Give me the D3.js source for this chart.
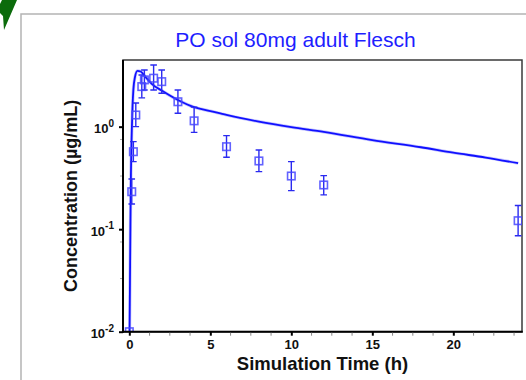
<!DOCTYPE html>
<html>
<head>
<meta charset="utf-8">
<script src="https://cdn.jsdelivr.net/npm/d3@7"></script>
<style>
  html, body { margin: 0; padding: 0; background: #fff; }
  svg { display: block; font-family: "Liberation Sans", Arial, sans-serif; }
</style>
</head>
<body>
<svg id="chart" width="526" height="380"></svg>
<script>
// Observed plasma concentrations (mean with error bars), µg/mL
const obsTime = [0, 0.15, 0.25, 0.4, 0.77, 0.93, 1.5, 2, 3, 4, 6, 8, 10, 12, 24];
const obsConc = [0.01, 0.232, 0.57, 1.30, 2.46, 2.86, 2.97, 2.75, 1.75, 1.14, 0.638, 0.463, 0.330, 0.270, 0.121];
const obsLow  = [null, 0.176, 0.456, 1.0, 1.91, 2.28, 2.28, 2.12, 1.35, 0.88, 0.503, 0.364, 0.238, 0.216, 0.0864];
const obsHigh = [null, 0.309, 0.714, 1.70, 3.19, 3.57, 4.0, 3.57, 2.28, 1.55, 0.817, 0.593, 0.456, 0.333, 0.170];

// Simulated concentration-time profile
const simTime = [0, 0.04, 0.07, 0.1, 0.13, 0.16, 0.2, 0.25, 0.35, 0.5, 0.7, 1.0, 1.4, 2, 3, 4, 5, 6, 8, 10, 12, 15, 18, 20, 22, 24];
const simConc = [0.005, 0.03, 0.12, 0.35, 0.65, 1.0, 1.6, 2.3, 3.05, 3.5, 3.45, 3.05, 2.6, 2.25, 1.82, 1.55, 1.42, 1.30, 1.12, 0.99, 0.89, 0.74, 0.63, 0.557, 0.5, 0.44];

// Axis ticks
const xTicks = [0, 5, 10, 15, 20];
const xMinorTicks = [1.25, 2.5, 3.75, 6.25, 7.5, 8.75, 11.25, 12.5, 13.75, 16.25, 17.5, 18.75, 21.25, 22.5, 23.75];
const yTicks = [0.01, 0.1, 1];
const yTickExponents = ["-2", "-1", "0"];
const yMinorTicks = [0.033, 0.075, 0.33, 0.75];

const titleText = "PO sol 80mg adult Flesch";
const xLabel = "Simulation Time (h)";
const yLabel = "Concentration (µg/mL)";

const svg = d3.select("#chart");
const plot = { left: 123, right: 522, top: 60, bottom: 331.7 };

const x = d3.scaleLinear().domain([-0.39, 24.24]).range([plot.left, plot.right]);
const y = d3.scaleLog().domain([0.01, 4.47]).range([plot.bottom, plot.top]);

// Panel frame and corner marker
svg.append("path")
  .attr("d", `M21,380 V14 H526`)
  .attr("fill", "none").attr("stroke", "#b4b4b4").attr("stroke-width", 1.5);
svg.append("polygon")
  .attr("points", "2,0 17,0 4,30 3,16 0,13 0,4")
  .attr("fill", "#0b6b0b");

// Title
svg.append("text")
  .attr("x", 295.5).attr("y", 47)
  .attr("text-anchor", "middle")
  .attr("font-size", 21)
  .attr("fill", "#1e1eff")
  .text(titleText);

// Clip for plotted data
svg.append("clipPath").attr("id", "plotClip")
  .append("rect")
  .attr("x", plot.left).attr("y", plot.top)
  .attr("width", plot.right - plot.left).attr("height", plot.bottom - plot.top);

// Plot box
svg.append("rect")
  .attr("x", plot.left).attr("y", plot.top)
  .attr("width", plot.right - plot.left).attr("height", plot.bottom - plot.top)
  .attr("fill", "none").attr("stroke", "#3a3a3a").attr("stroke-width", 1.5);

const data = svg.append("g").attr("clip-path", "url(#plotClip)");

// Simulated curve
const line = d3.line()
  .x((d, i) => x(simTime[i]))
  .y((d, i) => y(simConc[i]))
  .curve(d3.curveMonotoneX);
data.append("path")
  .datum(simConc)
  .attr("d", line)
  .attr("fill", "none")
  .attr("stroke", "#8080ff").attr("stroke-width", 3.2).attr("opacity", 0.45);
data.append("path")
  .datum(simConc)
  .attr("d", line)
  .attr("fill", "none")
  .attr("stroke", "#1010ff").attr("stroke-width", 1.8);

// Error bars
const obs = obsTime.map((t, i) => ({ t, c: obsConc[i], lo: obsLow[i], hi: obsHigh[i] }));
const eb = data.append("g").attr("stroke", "#2a2af0").attr("stroke-width", 1.4);
obs.filter(d => d.lo != null).forEach(d => {
  const cx = x(d.t);
  eb.append("line").attr("x1", cx).attr("x2", cx).attr("y1", y(d.lo)).attr("y2", y(d.hi));
  eb.append("line").attr("x1", cx - 3.3).attr("x2", cx + 3.3).attr("y1", y(d.lo)).attr("y2", y(d.lo));
  eb.append("line").attr("x1", cx - 3.3).attr("x2", cx + 3.3).attr("y1", y(d.hi)).attr("y2", y(d.hi));
});

// Observation markers: hollow squares
const sq = 7.5;
data.append("g").selectAll("rect")
  .data(obs)
  .join("rect")
  .attr("x", d => x(d.t) - sq / 2)
  .attr("y", d => y(d.c) - sq / 2)
  .attr("width", sq).attr("height", sq)
  .attr("fill", "none")
  .attr("stroke", "#4646ff").attr("stroke-opacity", 0.85).attr("stroke-width", 1.6);

// Axes lines
svg.append("line")
  .attr("x1", plot.left).attr("x2", plot.left).attr("y1", plot.top).attr("y2", plot.bottom + 1)
  .attr("stroke", "#000").attr("stroke-width", 2);
svg.append("line")
  .attr("x1", plot.left - 1).attr("x2", plot.right + 0.75).attr("y1", plot.bottom).attr("y2", plot.bottom)
  .attr("stroke", "#000").attr("stroke-width", 2);

// X axis
const xAxis = svg.append("g").attr("transform", `translate(0,${plot.bottom})`)
  .call(d3.axisBottom(x).tickValues(xTicks).tickSize(4).tickPadding(4).tickFormat(d3.format("d")));
xAxis.select(".domain").remove();
xAxis.selectAll(".tick line").attr("stroke", "#000").attr("stroke-width", 2);
xAxis.selectAll(".tick text")
  .attr("font-size", 13).attr("font-weight", "bold").attr("fill", "#111")
  .attr("font-family", "Liberation Sans, Arial, sans-serif");

svg.append("g").selectAll("line")
  .data(xMinorTicks)
  .join("line")
  .attr("x1", d => x(d)).attr("x2", d => x(d))
  .attr("y1", plot.bottom + 1).attr("y2", plot.bottom + 4)
  .attr("stroke", "#888").attr("stroke-width", 1);

// Y axis
const yAxis = svg.append("g").attr("transform", `translate(${plot.left},0)`)
  .call(d3.axisLeft(y).tickValues(yTicks).tickSize(4).tickPadding(5).tickFormat(() => ""));
yAxis.select(".domain").remove();
yAxis.selectAll(".tick line").attr("stroke", "#000").attr("stroke-width", 2);
yAxis.selectAll(".tick text").each(function (d, i) {
  const t = d3.select(this)
    .attr("font-size", 13).attr("font-weight", "bold").attr("fill", "#111")
    .attr("font-family", "Liberation Sans, Arial, sans-serif")
    .attr("dy", "0.45em")
    .text(null);
  t.append("tspan").text("10");
  t.append("tspan").attr("font-size", 10).attr("dy", "-0.65em").text(yTickExponents[i]);
});

svg.append("g").selectAll("line")
  .data(yMinorTicks)
  .join("line")
  .attr("x1", plot.left - 3).attr("x2", plot.left - 1)
  .attr("y1", d => y(d)).attr("y2", d => y(d))
  .attr("stroke", "#aaa").attr("stroke-width", 1);

// Axis titles
svg.append("text")
  .attr("x", (plot.left + plot.right) / 2).attr("y", 370)
  .attr("text-anchor", "middle")
  .attr("font-size", 18.5).attr("font-weight", "bold").attr("fill", "#111")
  .text(xLabel);

svg.append("text")
  .attr("transform", `translate(77,${(plot.top + plot.bottom) / 2}) rotate(-90)`)
  .attr("text-anchor", "middle")
  .attr("font-size", 18).attr("font-weight", "bold").attr("fill", "#111")
  .text(yLabel);
</script>
</body>
</html>
